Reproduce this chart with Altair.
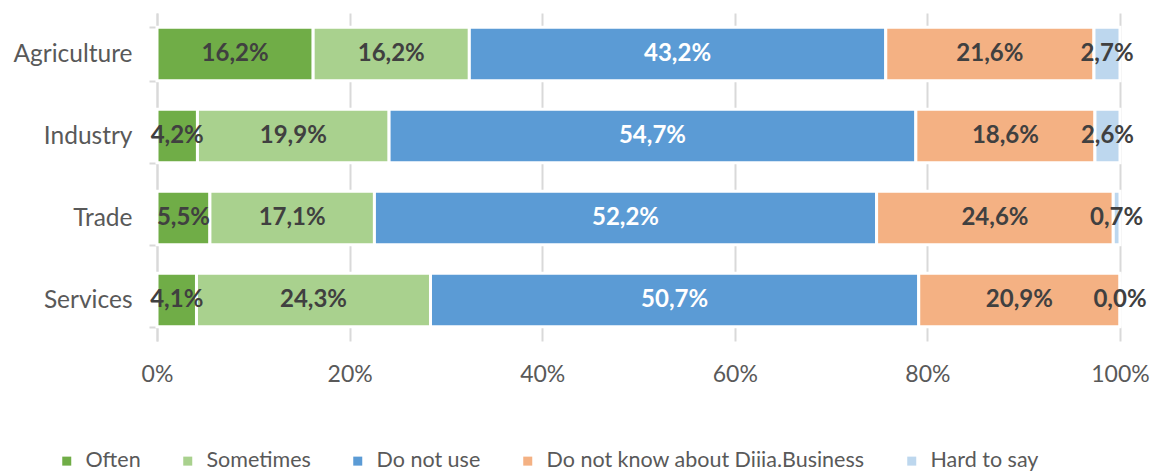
import altair as alt
import pandas as pd

sectors = ["Agriculture", "Industry", "Trade", "Services"]
answers = ["Often", "Sometimes", "Do not use", "Do not know about Diiia.Business", "Hard to say"]
colors = ["#70AD47", "#A9D18E", "#5B9BD5", "#F4B183", "#BDD7EE"]

often = [16.2, 4.2, 5.5, 4.1]
sometimes = [16.2, 19.9, 17.1, 24.3]
do_not_use = [43.2, 54.7, 52.2, 50.7]
do_not_know = [21.6, 18.6, 24.6, 20.9]
hard_to_say = [2.7, 2.6, 0.7, 0.0]

series = [often, sometimes, do_not_use, do_not_know, hard_to_say]
rows = []
for k, (ans, vals) in enumerate(zip(answers, series)):
    for s, v in zip(sectors, vals):
        rows.append({
            "sector": s,
            "answer": ans,
            "order": k,
            "value": v,
            "label": f"{v:.1f}%".replace(".", ","),
            "tcolor": "#FFFFFF" if ans == "Do not use" else "#404040",
        })
df = pd.DataFrame(rows)

FONT = "Lato"

yscale = alt.Scale(domain=sectors, paddingInner=0.35, paddingOuter=0.175)
xscale = alt.Scale(domain=[0, 1], nice=False)

base = alt.Chart(df).transform_stack(
    stack="value", groupby=["sector"], sort=[alt.SortField("order")],
    offset="normalize", as_=["x0", "x1"]
).transform_calculate(mid="(datum.x0 + datum.x1) / 2")

bars = base.mark_bar(stroke="white", strokeWidth=3).encode(
    y=alt.Y("sector:N", scale=yscale, title=None,
            axis=alt.Axis(labelFontSize=24.5, labelColor="#595959", labelFont=FONT,
                          ticks=True, tickBand="extent", tickSize=8,
                          tickColor="#D9D9D9", tickWidth=2,
                          domain=True, domainColor="#D9D9D9",
                          domainWidth=2, labelPadding=17)),
    x=alt.X("x0:Q", scale=xscale, title=None,
            axis=alt.Axis(format="%", values=[0, 0.2, 0.4, 0.6, 0.8, 1.0],
                          labelFontSize=23, labelColor="#595959", labelFont=FONT,
                          labelFlush=False,
                          domain=False, ticks=False, labelPadding=22,
                          grid=True, gridColor="#D9D9D9", gridWidth=2)),
    x2="x1:Q",
    color=alt.Color("answer:N", scale=alt.Scale(domain=answers, range=colors),
                    title=None,
                    legend=alt.Legend(orient="none", legendX=-101, legendY=437,
                                      direction="horizontal", columns=5,
                                      symbolType="square", symbolSize=81,
                                      symbolStrokeWidth=0, labelLimit=1000,
                                      labelFontSize=21.5, labelColor="#595959",
                                      labelFont=FONT, columnPadding=36,
                                      labelOffset=8)),
    order=alt.Order("order:Q"),
)

text = base.mark_text(font=FONT, fontSize=24, fontWeight="bold").encode(
    y=alt.Y("sector:N", scale=yscale),
    x=alt.X("mid:Q", scale=xscale),
    text="label:N",
    color=alt.Color("tcolor:N", scale=None),
)

chart = alt.layer(bars, text).properties(
    width=963, height=328,
    autosize=alt.AutoSizeParams(type="none"),
    padding={"left": 157, "top": 13, "right": 38, "bottom": 134},
).configure_view(stroke=None)

chart.save("out.html", embed_options={"renderer": "svg", "actions": False})
